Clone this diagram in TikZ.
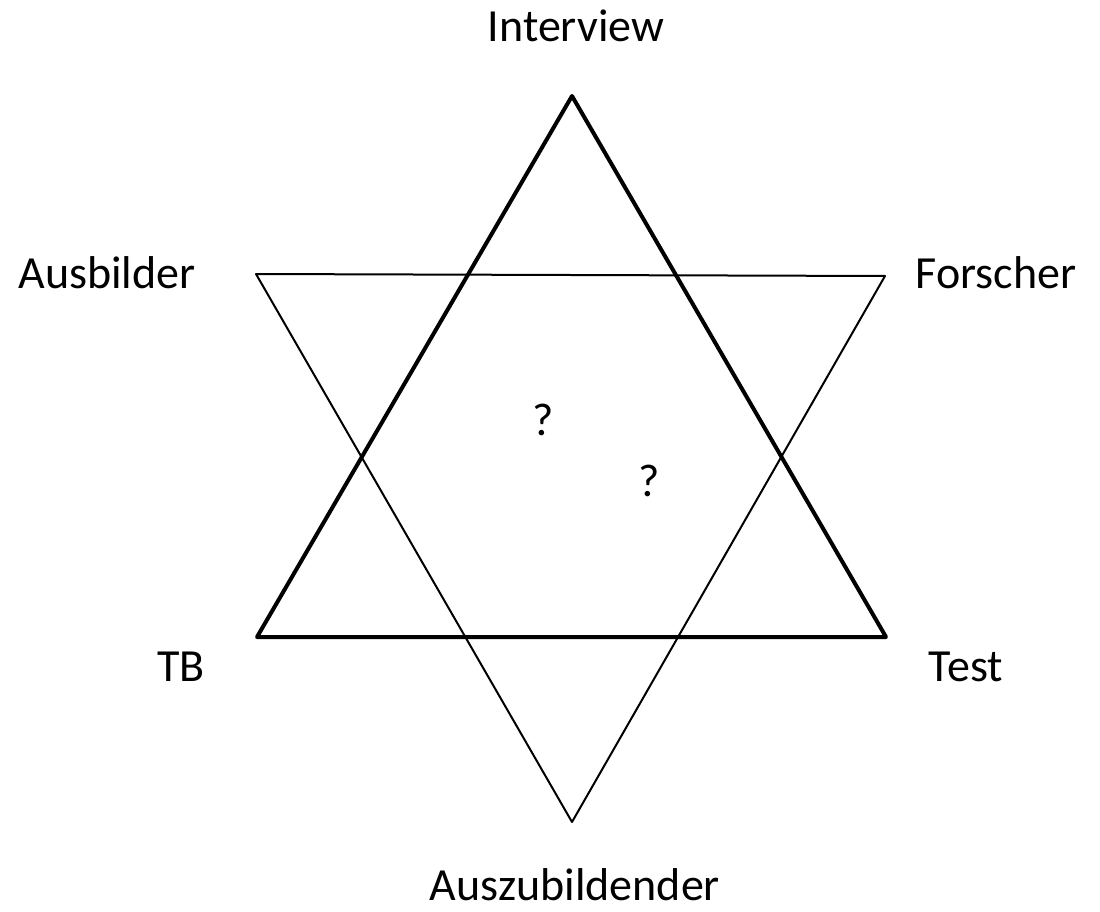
\documentclass[tikz,border=0pt]{standalone}
\usepackage{fontspec}
\setmainfont{Carlito}
\begin{document}
\begin{tikzpicture}[x=1pt,y=-1pt,
  lbl/.style={anchor=base,font=\fontsize{46}{50}\selectfont,inner sep=0pt},
  q/.style={font=\fontsize{46}{50}\selectfont,inner sep=0pt},
  thick tri/.style={line width=4pt,line join=round,line cap=round},
  thin tri/.style={line width=2pt,line join=round,line cap=round}]
\useasboundingbox (0,0) rectangle (1100,912);
\coordinate (A) at (572,96);
\coordinate (B) at (257,637);
\coordinate (C) at (886,637);
\coordinate (D) at (256,274);
\coordinate (E) at (885,276);
\coordinate (F) at (572,822);
\draw[thick tri] (A) -- (B) -- (C) -- cycle;
\draw[thin tri] (D) -- (E) -- (F) -- cycle;
\node[lbl] (interview) at (576,42) {Interview};
\node[lbl] (ausbilder) at (107,288) {Ausbilder};
\node[lbl] (forscher) at (996,288) {Forscher};
\node[lbl] (tb) at (181,681) {TB};
\node[lbl] (test) at (966,681) {Test};
\node[lbl] (azubi) at (575,900) {Auszubildender};
\node[q] (q1) at (543,420) {?};
\node[q] (q2) at (649,481) {?};
\end{tikzpicture}
\end{document}
